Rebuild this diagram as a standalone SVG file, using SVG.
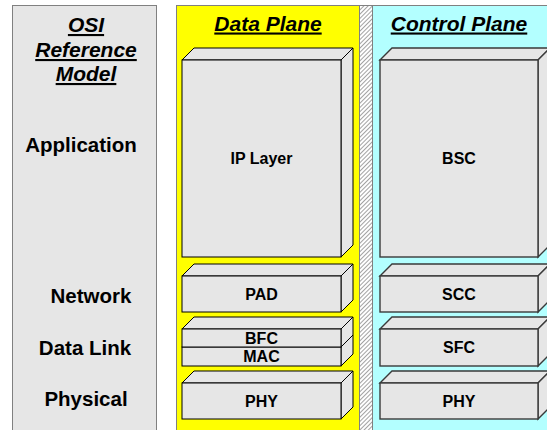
<svg xmlns="http://www.w3.org/2000/svg" width="547" height="430" viewBox="0 0 547 430">
  <defs>
    <pattern id="hatch" patternUnits="userSpaceOnUse" width="3" height="3" patternTransform="rotate(45)">
      <rect width="3" height="3" fill="#ffffff"/>
      <line x1="0" y1="0" x2="0" y2="3" stroke="#7a7a7a" stroke-width="1.4"/>
    </pattern>
  </defs>
  <style>
    .panel { stroke: #808080; stroke-width: 1; }
    .title { font-family: "Liberation Sans", Arial, sans-serif; font-weight: bold; font-style: italic; font-size: 21px; text-decoration: underline; text-anchor: middle; fill: #000; }
    .layer { font-family: "Liberation Sans", Arial, sans-serif; font-weight: bold; font-size: 20.5px; text-anchor: middle; fill: #000; }
    .lbl { font-family: "Liberation Sans", Arial, sans-serif; font-weight: bold; font-size: 16px; text-anchor: middle; fill: #000; }
    .dbox { fill: #e6e6e6; stroke: #000; stroke-width: 1; stroke-linejoin: miter; }
    .cbox { fill: #e6e6e6; stroke: #3a3a3a; stroke-width: 1.4; stroke-linejoin: miter; }
  </style>

  <rect width="547" height="430" fill="#ffffff"/>

  <!-- Panels -->
  <g id="osi-panel">
    <rect class="panel" x="12.5" y="5.5" width="144" height="430" fill="#e6e6e6"/>
    <text class="title" x="86" y="32">OSI</text>
    <text class="title" x="86" y="57">Reference</text>
    <text class="title" x="86" y="81">Model</text>
    <text class="layer" x="81" y="152">Application</text>
    <text class="layer" x="91" y="303">Network</text>
    <text class="layer" x="85" y="355">Data Link</text>
    <text class="layer" x="86" y="406">Physical</text>
  </g>

  <g id="data-plane">
    <rect class="panel" x="176.5" y="5.5" width="183" height="430" fill="#ffff00"/>
    <text class="title" x="268" y="30.5">Data Plane</text>
  </g>

  <g id="divider">
    <rect class="panel" x="359.5" y="5.5" width="13" height="430" fill="url(#hatch)"/>
  </g>

  <g id="control-plane">
    <rect class="panel" x="372.5" y="5.5" width="180" height="430" fill="#b3ffff"/>
    <text class="title" x="459" y="30.5">Control Plane</text>
  </g>

  <!-- Data plane boxes -->
  <g id="ip-layer">
    <polygon class="dbox" points="182,60 194,48 353,48 341,60"/>
    <polygon class="dbox" points="341,60 353,48 353,245 341,257"/>
    <rect class="dbox" x="182" y="60" width="159" height="197"/>
    <text class="lbl" x="261.5" y="163.5">IP Layer</text>
  </g>
  <g id="pad">
    <polygon class="dbox" points="182,276 194,264 353,264 341,276"/>
    <polygon class="dbox" points="341,276 353,264 353,300 341,312"/>
    <rect class="dbox" x="182" y="276" width="159" height="36"/>
    <text class="lbl" x="261.5" y="299.5">PAD</text>
  </g>
  <g id="mac">
    <polygon class="dbox" points="182,347 194,335 353,335 341,347"/>
    <polygon class="dbox" points="341,347 353,335 353,354 341,366"/>
    <rect class="dbox" x="182" y="347" width="159" height="19"/>
    <text class="lbl" x="261.5" y="362">MAC</text>
  </g>
  <g id="bfc">
    <polygon class="dbox" points="182,329 194,317 353,317 341,329"/>
    <polygon class="dbox" points="341,329 353,317 353,335 341,347"/>
    <rect class="dbox" x="182" y="329" width="159" height="18"/>
    <text class="lbl" x="261.5" y="343.5">BFC</text>
  </g>
  <g id="phy-data">
    <polygon class="dbox" points="182,383 194,371 353,371 341,383"/>
    <polygon class="dbox" points="341,383 353,371 353,407 341,419"/>
    <rect class="dbox" x="182" y="383" width="159" height="36"/>
    <text class="lbl" x="261.5" y="407">PHY</text>
  </g>

  <!-- Control plane boxes -->
  <g id="bsc">
    <polygon class="cbox" points="380,60 392,48 550,48 538,60"/>
    <polygon class="cbox" points="538,60 550,48 550,245 538,257"/>
    <rect class="cbox" x="380" y="60" width="158" height="197"/>
    <text class="lbl" x="459" y="163.5">BSC</text>
  </g>
  <g id="scc">
    <polygon class="cbox" points="380,276 392,264 550,264 538,276"/>
    <polygon class="cbox" points="538,276 550,264 550,300 538,312"/>
    <rect class="cbox" x="380" y="276" width="158" height="36"/>
    <text class="lbl" x="459" y="299.5">SCC</text>
  </g>
  <g id="sfc">
    <polygon class="cbox" points="380,329 392,317 550,317 538,329"/>
    <polygon class="cbox" points="538,329 550,317 550,354 538,366"/>
    <rect class="cbox" x="380" y="329" width="158" height="37"/>
    <text class="lbl" x="459" y="353">SFC</text>
  </g>
  <g id="phy-control">
    <polygon class="cbox" points="380,383 392,371 550,371 538,383"/>
    <polygon class="cbox" points="538,383 550,371 550,407 538,419"/>
    <rect class="cbox" x="380" y="383" width="158" height="36"/>
    <text class="lbl" x="459" y="407">PHY</text>
  </g>

  <g id="connectors"></g>
</svg>
